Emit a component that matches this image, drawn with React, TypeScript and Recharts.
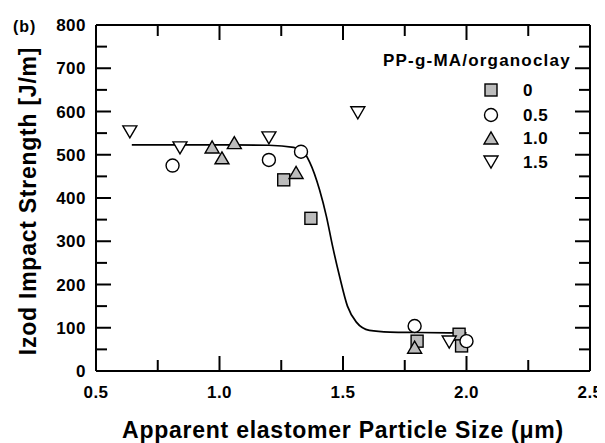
import {ComposedChart, Line, Scatter, XAxis, YAxis} from "recharts";

// x: particle size (um), y: Izod impact strength (J/m)
const xTicks = [0.5, 0.75, 1.0, 1.25, 1.5, 1.75, 2.0, 2.25, 2.5];
const xMajor = [0.5, 1.0, 1.5, 2.0, 2.5];
const yTicks = [0, 50, 100, 150, 200, 250, 300, 350, 400, 450, 500, 550, 600, 650, 700, 750, 800];
const yMajor = [0, 100, 200, 300, 400, 500, 600, 700, 800];

const clay0 = [
  {x: 1.26, y: 442},
  {x: 1.37, y: 353},
  {x: 1.80, y: 69},
  {x: 1.97, y: 85},
  {x: 1.98, y: 58},
];
const clay05 = [
  {x: 0.81, y: 475},
  {x: 1.20, y: 488},
  {x: 1.33, y: 507},
  {x: 1.79, y: 104},
  {x: 2.00, y: 69},
];
const clay10 = [
  {x: 0.97, y: 518},
  {x: 1.01, y: 493},
  {x: 1.06, y: 528},
  {x: 1.31, y: 459},
  {x: 1.79, y: 55},
];
const clay15 = [
  {x: 0.637, y: 553},
  {x: 0.84, y: 516},
  {x: 1.20, y: 539},
  {x: 1.56, y: 597},
  {x: 1.93, y: 67},
];

// fitted curve
const fitCurve = [
  {x: 0.645, y: 523},
  {x: 1.0, y: 523},
  {x: 1.2, y: 522},
  {x: 1.3, y: 517},
  {x: 1.33, y: 512},
  {x: 1.365, y: 483},
  {x: 1.405, y: 419},
  {x: 1.433, y: 357},
  {x: 1.458, y: 288},
  {x: 1.486, y: 219},
  {x: 1.518, y: 150},
  {x: 1.554, y: 113},
  {x: 1.607, y: 94},
  {x: 1.69, y: 90},
  {x: 1.8, y: 89},
  {x: 2.0, y: 88},
];

const legendItems = [
  {label: "0", kind: "square"},
  {label: "0.5", kind: "circle"},
  {label: "1.0", kind: "up"},
  {label: "1.5", kind: "down"},
];

const FONT = "'Liberation Sans', Arial, sans-serif";
const GRAY = "#bcbcbc";
const MAJOR_LEN = 15;
const MINOR_LEN = 11;

function Marker({kind, cx, cy}: {kind: string; cx: number; cy: number}) {
  const sw = 1.4;
  if (kind === "square") {
    return <rect x={cx - 6} y={cy - 6} width={12} height={12} fill={GRAY} stroke="#000" strokeWidth={sw}/>;
  }
  if (kind === "circle") {
    return <circle cx={cx} cy={cy} r={6.5} fill="#fff" stroke="#000" strokeWidth={sw}/>;
  }
  if (kind === "up") {
    return <polygon points={`${cx - 7},${cy + 6} ${cx + 7},${cy + 6} ${cx},${cy - 6}`} fill={GRAY} stroke="#000"
                    strokeWidth={sw}/>;
  }
  return <polygon points={`${cx - 7},${cy - 6} ${cx + 7},${cy - 6} ${cx},${cy + 6}`} fill="#fff" stroke="#000"
                  strokeWidth={sw}/>;
}

const shapeOf = (kind: string) => (props: any) => <Marker kind={kind} cx={props.cx} cy={props.cy}/>;

const BottomTick = (props: any) => {
  const {x, y, payload} = props;
  const major = xMajor.includes(payload.value);
  return (
    <g>
      <line x1={x} x2={x} y1={y} y2={y - (major ? MAJOR_LEN : MINOR_LEN)} stroke="#000" strokeWidth={2}/>
      {major && (
        <text x={x} y={y + 27} textAnchor="middle" fontFamily={FONT} fontWeight="bold" fontSize={17}
              letterSpacing={0.5} fill="#000">
          {payload.value.toFixed(1)}
        </text>
      )}
    </g>
  );
};

const TopTick = (props: any) => {
  const {x, y, payload} = props;
  const major = xMajor.includes(payload.value);
  return <line x1={x} x2={x} y1={y} y2={y + (major ? MAJOR_LEN : MINOR_LEN)} stroke="#000" strokeWidth={2}/>;
};

const LeftTick = (props: any) => {
  const {x, y, payload} = props;
  const major = yMajor.includes(payload.value);
  return (
    <g>
      <line x1={x} x2={x + (major ? MAJOR_LEN : MINOR_LEN)} y1={y} y2={y} stroke="#000" strokeWidth={2}/>
      {major && (
        <text x={x - 10} y={y + 6} textAnchor="end" fontFamily={FONT} fontWeight="bold" fontSize={17}
              letterSpacing={0.5} fill="#000">
          {payload.value}
        </text>
      )}
    </g>
  );
};

const RightTick = (props: any) => {
  const {x, y, payload} = props;
  const major = yMajor.includes(payload.value);
  return <line x1={x} x2={x - (major ? MAJOR_LEN : MINOR_LEN)} y1={y} y2={y} stroke="#000" strokeWidth={2}/>;
};

export default function App() {
  const axisLine = {stroke: "#000", strokeWidth: 2};
  return (
    <div style={{position: "relative", width: 597, height: 435}}>
      <ComposedChart width={597} height={435} margin={{top: 16, right: 14, bottom: 0, left: 0}}>
        <XAxis xAxisId="b" dataKey="x" type="number" domain={[0.5, 2.5]} ticks={xTicks} interval={0}
               allowDataOverflow height={72} tickSize={0} tickMargin={0} tickLine={false}
               axisLine={axisLine} tick={<BottomTick/>}/>
        <XAxis xAxisId="t" dataKey="x" type="number" orientation="top" domain={[0.5, 2.5]} ticks={xTicks}
               interval={0} allowDataOverflow height={1} tickSize={0} tickMargin={0} tickLine={false}
               axisLine={axisLine} tick={<TopTick/>}/>
        <YAxis yAxisId="l" type="number" domain={[0, 800]} ticks={yTicks} interval={0} allowDataOverflow
               width={88} tickSize={0} tickMargin={0} tickLine={false} axisLine={axisLine} tick={<LeftTick/>}/>
        <YAxis yAxisId="r" type="number" orientation="right" domain={[0, 800]} ticks={yTicks} interval={0}
               allowDataOverflow width={1} tickSize={0} tickMargin={0} tickLine={false} axisLine={axisLine}
               tick={<RightTick/>}/>
        <Line xAxisId="b" yAxisId="l" data={fitCurve} dataKey="y" type="monotone" stroke="#000"
              strokeWidth={1.7} dot={false} activeDot={false} isAnimationActive={false}/>
        <Scatter xAxisId="b" yAxisId="l" name="0" data={clay0} dataKey="y" shape={shapeOf("square")}
                 isAnimationActive={false}/>
        <Scatter xAxisId="b" yAxisId="l" name="0.5" data={clay05} dataKey="y" shape={shapeOf("circle")}
                 isAnimationActive={false}/>
        <Scatter xAxisId="b" yAxisId="l" name="1.0" data={clay10} dataKey="y" shape={shapeOf("up")}
                 isAnimationActive={false}/>
        <Scatter xAxisId="b" yAxisId="l" name="1.5" data={clay15} dataKey="y" shape={shapeOf("down")}
                 isAnimationActive={false}/>
      </ComposedChart>

      {/* titles and legend drawn over the chart */}
      <svg width={597} height={435} style={{position: "absolute", left: 0, top: 0, pointerEvents: "none"}}>
        <g fontFamily={FONT} fontWeight="bold" fill="#000">
          <text x={5} y={24} fontSize={16} letterSpacing={1}>(b)</text>
          <text x={335} y={430} fontSize={23} textAnchor="middle" letterSpacing={0.75}>
            Apparent elastomer Particle Size (μm)
          </text>
          <text x={28} y={193} fontSize={23} textAnchor="middle" letterSpacing={0.75}
                transform="rotate(-90 28 193)">
            Izod Impact Strength [J/m]
          </text>
          <text x={375} y={58} fontSize={17} letterSpacing={1.2}>PP-g-MA/organoclay</text>
          {legendItems.map((it, i) => {
            const cy = [82, 107, 130, 154][i];
            return (
              <g key={it.label}>
                <Marker kind={it.kind} cx={483} cy={cy}/>
                <text x={515} y={cy + 6} fontSize={17} letterSpacing={0.5}>{it.label}</text>
              </g>
            );
          })}
        </g>
      </svg>
    </div>
  );
}
